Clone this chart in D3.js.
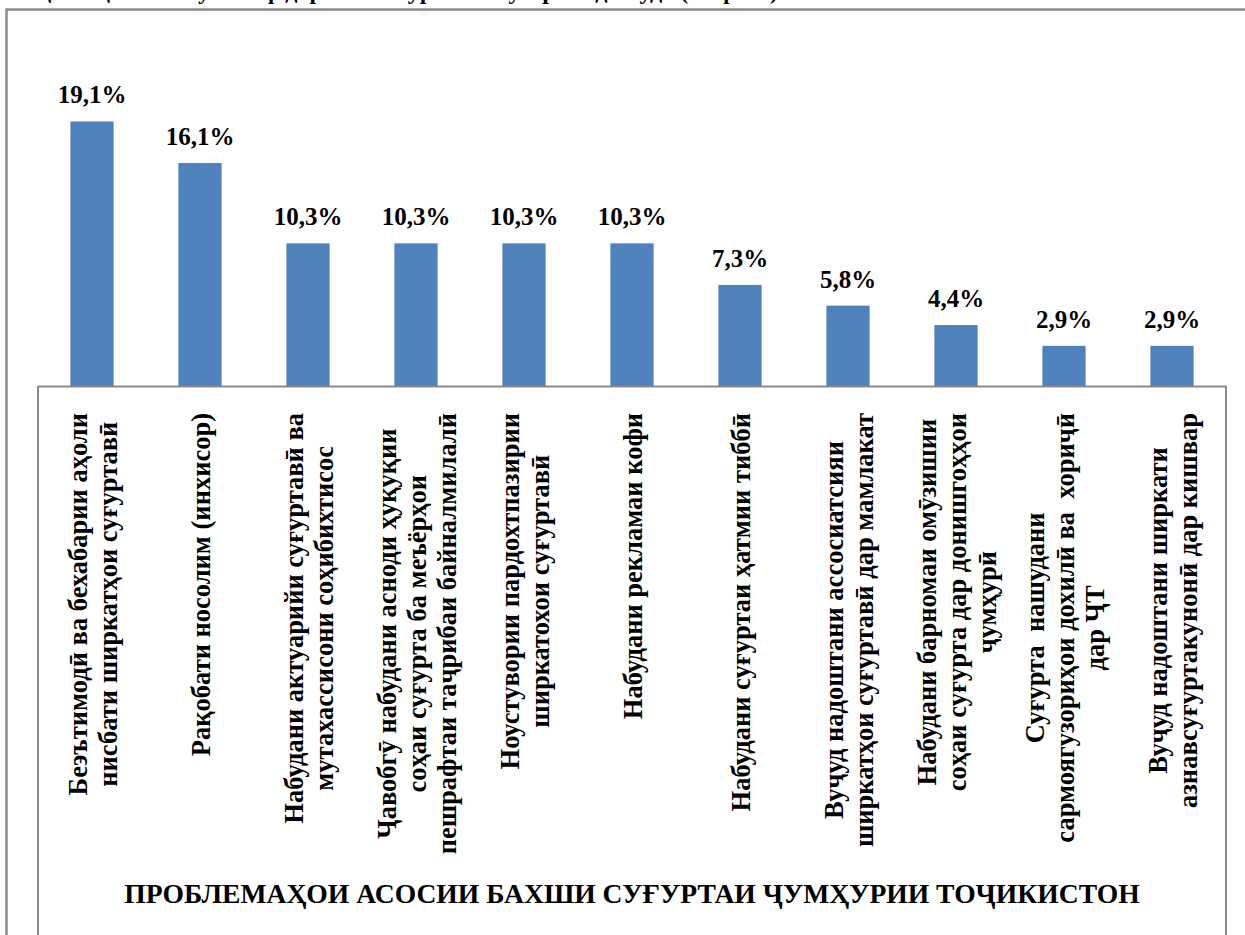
<!DOCTYPE html>
<html>
<head>
<meta charset="utf-8">
<script src="https://cdn.jsdelivr.net/npm/d3@7"></script>
<style>
  html, body { margin: 0; padding: 0; background: #fff; overflow: hidden; }
  svg { display: block; }
  text { font-family: "Liberation Serif", "Times New Roman", serif; font-weight: bold; fill: #000; white-space: pre; }
</style>
</head>
<body>
<svg id="chart" width="1245" height="935"></svg>
<script>
'use strict';

// categories, one entry per bar, split into the lines shown under the axis
var categories = [
  ['Беэътимодӣ ва бехабарии аҳоли', 'нисбати ширкатҳои суғуртавӣ'],
  ['Рақобати носолим (инхисор)'],
  ['Набудани актуарийи суғуртавӣ ва', 'мутахассисони соҳибихтисос'],
  ['Ҷавобгӯ набудани асноди ҳуқуқии', 'соҳаи суғурта ба меъёрҳои', 'пешрафтаи таҷрибаи байналмилалӣ'],
  ['Ноустувории пардохтпазирии', 'ширкатохои суғуртавӣ'],
  ['Набудани рекламаи кофи'],
  ['Набудани суғуртаи ҳатмии тиббӣ'],
  ['Вуҷуд надоштани ассосиатсияи', 'ширкатҳои суғуртавӣ дар мамлакат'],
  ['Набудани барномаи омӯзишии', 'соҳаи суғурта дар донишгоҳҳои', 'ҷумҳурӣ'],
  ['Суғурта  нашудани', 'сармоягузориҳои дохилӣ ва  хориҷӣ', 'дар ҶТ'],
  ['Вуҷуд надоштани ширкати', 'азнавсуғуртакунонӣ дар кишвар']
];
var values = [19.1, 16.1, 10.3, 10.3, 10.3, 10.3, 7.3, 5.8, 4.4, 2.9, 2.9];
var yDomain = [0, 20];
var axisTitle = 'ПРОБЛЕМАҲОИ АСОСИИ БАХШИ СУҒУРТАИ ҶУМҲУРИИ ТОҶИКИСТОН';
var captionTail = 'маълумотҳо аз ҷониби муаллиф дар асоси пурсиши гузаронидашуда (бо фоиз)';

var svg = d3.select('#chart');
var grey = '#8a8a8a';
var ruFormat = d3.formatLocale({ decimal: ',', thousands: ' ', grouping: [3], currency: ['', ''] }).format('.1f');

// bottom of the caption line above the chart, cut by the page edge
svg.append('text')
  .attr('x', 778).attr('y', -1)
  .attr('text-anchor', 'end')
  .style('font-size', '24px')
  .text(captionTail);

// chart frame, running past the page edges
svg.append('rect')
  .attr('x', 6.5).attr('y', 9.5)
  .attr('width', 1400).attr('height', 1200)
  .attr('fill', 'none')
  .attr('stroke', grey)
  .attr('stroke-width', 2.5);

var x = d3.scaleBand()
  .domain(d3.range(values.length))
  .range([38, 1226])
  .paddingInner(0.6)
  .paddingOuter(0.3);

var y = d3.scaleLinear().domain(yDomain).range([386, 109]);

svg.selectAll('rect.bar')
  .data(values)
  .enter().append('rect')
  .attr('class', 'bar')
  .attr('x', function (d, i) { return x(i); })
  .attr('y', function (d) { return y(d); })
  .attr('width', x.bandwidth())
  .attr('height', function (d) { return y(0) - y(d); })
  .attr('fill', '#4f81bd');

svg.selectAll('text.val')
  .data(values)
  .enter().append('text')
  .attr('class', 'val')
  .attr('x', function (d, i) { return x(i) + x.bandwidth() / 2; })
  .attr('y', function (d) { return y(d) - 18; })
  .attr('text-anchor', 'middle')
  .style('font-size', '25px')
  .text(function (d) { return ruFormat(d) + '%'; });

// category axis line and the box under it
var axis = svg.append('g')
  .attr('transform', 'translate(0,' + y(0) + ')')
  .call(d3.axisBottom(x).tickSize(0).tickFormat(''));
axis.select('.domain').attr('stroke', grey).attr('stroke-width', 2);

x.range().forEach(function (px) {
  svg.append('line')
    .attr('x1', px).attr('x2', px)
    .attr('y1', y(0)).attr('y2', 960)
    .attr('stroke', grey).attr('stroke-width', 2);
});

// rotated category labels, block top at y = 413, lines centred on each other
var lineH = 30;
categories.forEach(function (lines, i) {
  var cx = x(i) + x.bandwidth() / 2;
  var g = svg.append('g')
    .attr('transform', 'translate(' + cx + ',413) rotate(-90)');
  var t = g.selectAll('text')
    .data(lines)
    .enter().append('text')
    .style('font-size', '26.5px')
    .attr('text-anchor', 'middle')
    .attr('y', function (d, j) { return (j - (lines.length - 1) / 2) * lineH + 10; })
    .text(function (d) { return d; });
  var maxW = d3.max(t.nodes(), function (n) { return n.getComputedTextLength(); });
  t.attr('x', -maxW / 2);
});

svg.append('text')
  .attr('x', (x.range()[0] + x.range()[1]) / 2)
  .attr('y', 903)
  .attr('text-anchor', 'middle')
  .style('font-size', '27.6px')
  .text(axisTitle);
</script>
</body>
</html>
